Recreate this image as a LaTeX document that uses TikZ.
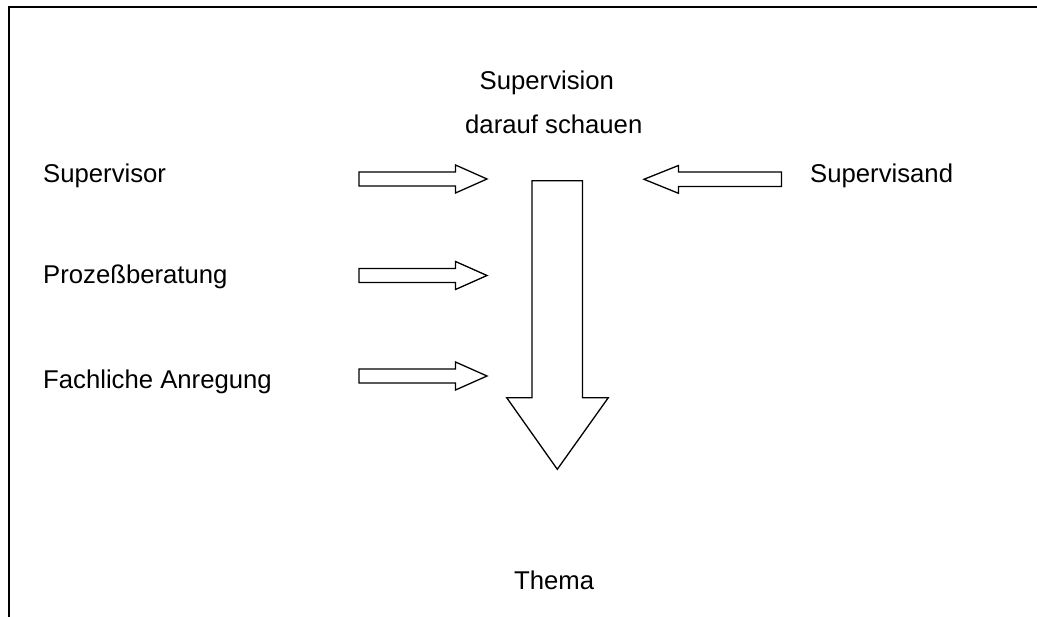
\documentclass[tikz,border=0pt]{standalone}
\usepackage{fontspec}
\setmainfont{Liberation Sans}
\begin{document}
\begin{tikzpicture}[x=1pt,y=-1pt,
  lbl/.style={inner sep=0pt,anchor=base west,font=\fontsize{25.7}{30}\selectfont},
  blockarrow/.style={draw=black,line width=1.3pt,fill=white,line join=miter},
  frameline/.style={draw=black,line width=2.2pt}]
\useasboundingbox (0,0) rectangle (1037,617);
% frame (top and left edges)
\coordinate (ftr) at (1040,7);
\coordinate (ftl) at (9,7);
\coordinate (fbl) at (9,620);
\draw[frameline] (ftr) -- (ftl) -- (fbl);
% labels
\node[lbl] (sv) at (479.5,90) {Supervision};
\node[lbl] (ds) at (465,134) {darauf schauen};
\node[lbl] (sor) at (43,182.3) {Supervisor};
\node[lbl] (pb) at (43,283.3) {Prozeßberatung};
\node[lbl] (fa) at (43,388.3) {Fachliche Anregung};
\node[lbl] (sand) at (810,182.3) {Supervisand};
\node[lbl] (th) at (514,589) {Thema};
% right-pointing arrows
\foreach \yy in {179,275.5,376}{
  \draw[blockarrow] (359,\yy-7) -- (455.5,\yy-7) -- (455.5,\yy-14) -- (487,\yy)
    -- (455.5,\yy+14) -- (455.5,\yy+7) -- (359,\yy+7) -- cycle;
}
% left-pointing arrow (Supervisand)
\draw[blockarrow] (781.5,172) -- (678.5,172) -- (678.5,165.5) -- (644,179.3)
  -- (678.5,193.3) -- (678.5,186.5) -- (781.5,186.5) -- cycle;
% big down arrow
\draw[blockarrow] (532,180.7) -- (582.5,180.7) -- (582.5,397.7) -- (608.3,397.7)
  -- (557.3,469.3) -- (506.7,397.7) -- (532,397.7) -- cycle;
\end{tikzpicture}
\end{document}
